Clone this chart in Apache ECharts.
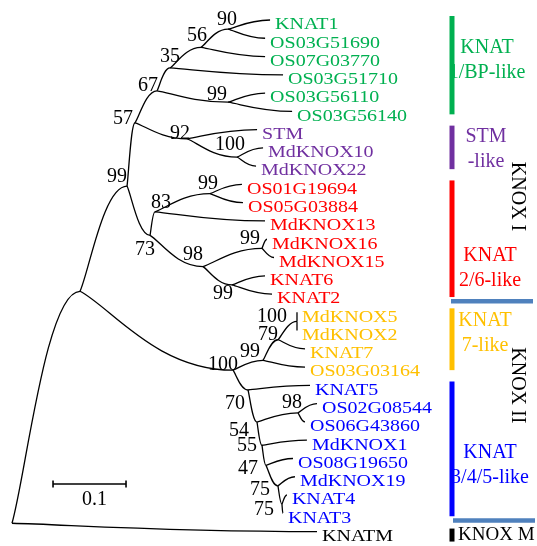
<!DOCTYPE html>
<html>
<head>
<meta charset="utf-8">
<script src="https://cdn.jsdelivr.net/npm/echarts@6/dist/echarts.min.js"></script>
<style>
html, body { margin: 0; padding: 0; background: #ffffff; }
#chart { width: 537px; height: 546px; }
</style>
</head>
<body>
<div id="chart"></div>
<script>
// ---- KNOX gene tree: topology, branch lengths (substitutions/site) and bootstrap support ----
const nodeIds = [
  'root', 'nKNOX', 'nI', 'n57', 'n67', 'n35', 'n56', 'n90', 'KNAT1', 'OS03G51690',
  'OS07G03770', 'OS03G51710', 'n99g', 'OS03G56110', 'OS03G56140', 'n92', 'STM', 'n100p',
  'MdKNOX10', 'MdKNOX22', 'n73', 'n83', 'n99r', 'OS01G19694', 'OS05G03884', 'MdKNOX13',
  'n98', 'n99a', 'MdKNOX16', 'MdKNOX15', 'n99b', 'KNAT6', 'KNAT2', 'nII', 'n99y', 'n79',
  'n100y', 'MdKNOX5', 'MdKNOX2', 'KNAT7', 'OS03G03164', 'n70', 'KNAT5', 'n54', 'n98b',
  'OS02G08544', 'OS06G43860', 'n55', 'MdKNOX1', 'n47', 'OS08G19650', 'n75a', 'MdKNOX19',
  'n75b', 'KNAT4', 'KNAT3', 'KNATM'
];
const parentIds = [
  null, 'root', 'nKNOX', 'nI', 'n57', 'n67', 'n35', 'n56', 'n90', 'n90',
  'n56', 'n35', 'n67', 'n99g', 'n99g', 'n57', 'n92', 'n92',
  'n100p', 'n100p', 'nI', 'n73', 'n83', 'n99r', 'n99r', 'n83',
  'n73', 'n98', 'n99a', 'n99a', 'n98', 'n99b', 'n99b', 'nKNOX', 'nII', 'n99y',
  'n79', 'n100y', 'n100y', 'n79', 'n99y', 'nII', 'n70', 'n70', 'n54',
  'n98b', 'n98b', 'n54', 'n55', 'n55', 'n47', 'n47', 'n75a',
  'n75a', 'n75b', 'n75b', 'root'
];
const branchLengths = [
  0, 0.0932, 0.0644, 0.0110, 0.0301, 0.0178, 0.0425, 0.0370, 0.0575, 0.0507,
  0.0877, 0.1548, 0.0973, 0.0507, 0.0877, 0.0712, 0.0959, 0.0685,
  0.0356, 0.0260, 0.0315, 0.0068, 0.0753, 0.0438, 0.0452, 0.1507,
  0.0726, 0.0808, 0.0068, 0.0164, 0.0397, 0.0452, 0.0548, 0.2096, 0.0411, 0.0205,
  0.0260, 0, 0, 0.0370, 0.0575, 0.0205, 0.0849, 0.0123, 0.0562,
  0.0260, 0.0096, 0.0068, 0.0616, 0.0055, 0.0370, 0.0164, 0.0233,
  0.0055, 0.0068, 0.0014, 0.4178
];
const bootstrap = [
  null, null, 99, 57, 67, 35, 56, 90, null, null,
  null, null, 99, null, null, 92, null, 100,
  null, null, 73, 83, 99, null, null, null,
  98, 99, null, null, 99, null, null, 100, 99, 79,
  100, null, null, null, null, 70, null, 54, 98,
  null, null, 55, null, 47, null, 75, null,
  75, null, null, null
];

// ---- Subfamily brackets ----
const groupNames = ['KNAT\n1/BP-like', 'STM\n-like', 'KNAT\n2/6-like', 'KNAT\n7-like', 'KNAT\n3/4/5-like', 'KNOX M'];
const groupFirst = ['KNAT1', 'STM', 'OS01G19694', 'MdKNOX5', 'KNAT5', 'KNATM'];
const groupLast  = ['OS03G56140', 'MdKNOX22', 'KNAT2', 'OS03G03164', 'KNAT3', 'KNATM'];

// ---- Class labels (vertical) ----
const classNames = ['KNOX I', 'KNOX II'];
const classFirst = ['KNAT1', 'MdKNOX5'];
const classLast  = ['KNAT2', 'KNAT3'];

// ---- Scale bar ----
const scaleBarLength = 0.1;
const scaleBarLabel = '0.1';

// ================= styling / layout =================
const SERIF = '"Liberation Serif", "Times New Roman", serif';
const groupColors = ['#00B050', '#7030A0', '#FF0000', '#FFC000', '#0000FF', '#000000'];
const separatorColor = '#4F81BD';
// bracket padding (px above first / below last leaf) and label placement
const groupLabelLayout = [
  { dx: 35, dy: -5, align: 'center', size: 20, padTop: 4, padBot: 3 },
  { dx: 34, dy: 2, align: 'center', size: 20, padTop: 4, padBot: 3 },
  { dx: 38, dy: 30, align: 'center', size: 20, padTop: 4, padBot: 3 },
  { dx: 33, dy: -6, align: 'center', size: 20, padTop: 4, padBot: 3 },
  { dx: 38, dy: 16, align: 'center', size: 20, padTop: 4, padBot: 3 },
  { dx: 6, dy: 0, align: 'left', size: 19, padTop: 3, padBot: 10 }
];
const classLabelDy = [40, -27];
// support value placement (text centre offset from node, px)
const supportOffset = {
  n90: [-1, -9], n56: [-4, -12], n35: [0, -11], n67: [-9, -5], n57: [-12, -4],
  n99g: [-11, -7], n92: [-7, -5], n100p: [-7, -12], nI: [-10, -9], n99r: [-2, -10],
  n83: [6, -9], n73: [-5, 14], n98: [-10, -12], n99a: [-12, -10], n99b: [-9, 9],
  nII: [-10, -5], n99y: [-13, -9], n79: [-10, -5], n100y: [-25, -5], n70: [-13, 14],
  n98b: [-6, -10], n54: [-18, 9], n55: [-15, 1], n47: [-18, 3], n75a: [-18, 4], n75b: [-18, 6]
};

// ================= tree layout =================
const idx = {};
nodeIds.forEach((id, i) => { idx[id] = i; });
const children = {};
nodeIds.forEach((id, i) => {
  const p = parentIds[i];
  if (p !== null) (children[p] = children[p] || []).push(id);
});
const pos = {};
const leafOrder = [];
let nextRow = 0;
// x = distance from root; row = leaf slot, internal nodes pulled toward smaller clades
function layout(id, x) {
  const kids = children[id] || [];
  if (!kids.length) {
    pos[id] = { x: x, row: nextRow++, n: 1 };
    leafOrder.push(id);
    return pos[id];
  }
  let wsum = 0, rsum = 0, n = 0;
  kids.forEach(k => {
    const c = layout(k, x + branchLengths[idx[k]]);
    const w = 1 / c.n;
    wsum += w; rsum += w * c.row; n += c.n;
  });
  pos[id] = { x: x, row: rsum / wsum, n: n };
  return pos[id];
}
layout('root', 0);

const leafGroup = {};
groupFirst.forEach((f, g) => {
  for (let r = pos[f].row; r <= pos[groupLast[g]].row; r++) leafGroup[leafOrder[r]] = g;
});

const edges = nodeIds.filter((id, i) => parentIds[i] !== null);
const edgeData = edges.map(id => {
  const p = pos[parentIds[idx[id]]], c = pos[id];
  return [p.x, p.row, c.x, c.row];
});
const leafData = leafOrder.map(id => [pos[id].x, pos[id].row]);
const supportNodes = nodeIds.filter((id, i) => bootstrap[i] !== null);
const supportData = supportNodes.map(id => [pos[id].x, pos[id].row]);

const chart = echarts.init(document.getElementById('chart'), null, { renderer: 'canvas' });

const BAR_X = 452;

chart.setOption({
  animation: false,
  backgroundColor: '#ffffff',
  grid: { left: 12, top: 20, width: 365, height: 28 * 18.27 },
  xAxis: { type: 'value', min: 0, max: 0.5, show: false },
  yAxis: { type: 'value', min: 0, max: 28, inverse: true, show: false },
  series: [
    {
      // branches
      type: 'custom',
      clip: false,
      data: edgeData,
      renderItem: function (params, api) {
        const a = api.coord([api.value(0), api.value(1)]);
        const b = api.coord([api.value(2), api.value(3)]);
        const dx = b[0] - a[0], dy = b[1] - a[1];
        return {
          type: 'bezierCurve',
          shape: {
            x1: a[0], y1: a[1], x2: b[0], y2: b[1],
            cpx1: a[0] + 0.2 * dx, cpy1: a[1] + 0.2 * dy,
            cpx2: a[0] + 0.5 * dx, cpy2: b[1]
          },
          style: { stroke: '#000', lineWidth: 1.3, fill: null }
        };
      }
    },
    {
      // leaf names
      type: 'custom',
      clip: false,
      data: leafData,
      renderItem: function (params, api) {
        const id = leafOrder[params.dataIndex];
        const p = api.coord([api.value(0), api.value(1)]);
        return {
          type: 'text',
          x: p[0] + 5, y: p[1] + 5,
          scaleY: 0.82,
          style: {
            text: id, fill: groupColors[leafGroup[id]],
            font: '20px ' + SERIF, textAlign: 'left', textVerticalAlign: 'middle'
          }
        };
      }
    },
    {
      // bootstrap support values
      type: 'custom',
      clip: false,
      data: supportData,
      renderItem: function (params, api) {
        const id = supportNodes[params.dataIndex];
        const p = api.coord([api.value(0), api.value(1)]);
        const off = supportOffset[id] || [-10, -8];
        return {
          type: 'text',
          x: p[0] + off[0], y: p[1] + off[1],
          style: {
            text: String(bootstrap[idx[id]]), fill: '#000',
            font: '20px ' + SERIF, textAlign: 'center', textVerticalAlign: 'middle'
          }
        };
      }
    },
    {
      // subfamily brackets with labels
      type: 'custom',
      clip: false,
      data: groupNames.map((g, i) => [pos[groupFirst[i]].row, pos[groupLast[i]].row]),
      renderItem: function (params, api) {
        const g = params.dataIndex;
        const lay = groupLabelLayout[g];
        const top = api.coord([0, api.value(0)])[1] - lay.padTop;
        const bot = api.coord([0, api.value(1)])[1] + lay.padBot;
        return {
          type: 'group',
          children: [
            { type: 'rect', shape: { x: BAR_X - 2.5, y: top, width: 5, height: bot - top },
              style: { fill: groupColors[g] } },
            { type: 'text', x: BAR_X + lay.dx, y: (top + bot) / 2 + lay.dy,
              style: { text: groupNames[g], fill: groupColors[g], font: lay.size + 'px ' + SERIF,
                       lineHeight: 25, textAlign: lay.align, textVerticalAlign: 'middle' } }
          ]
        };
      }
    },
    {
      // class labels and separators
      type: 'custom',
      clip: false,
      data: classNames.map((c, i) => [pos[classFirst[i]].row, pos[classLast[i]].row]),
      renderItem: function (params, api) {
        const c = params.dataIndex;
        const top = api.coord([0, api.value(0)])[1] - 4;
        const bot = api.coord([0, api.value(1)])[1] + 3;
        return {
          type: 'group',
          children: [
            { type: 'text', x: 517, y: (top + bot) / 2 + classLabelDy[c], rotation: -Math.PI / 2,
              style: { text: classNames[c], fill: '#000', font: '20px ' + SERIF,
                       textAlign: 'center', textVerticalAlign: 'middle' } },
            { type: 'rect', shape: { x: BAR_X - 1 + c * 2, y: bot + 2, width: 82, height: 4.5 },
              style: { fill: separatorColor } }
          ]
        };
      }
    },
    {
      // scale bar
      type: 'custom',
      clip: false,
      data: [[0.0562, 0.0562 + scaleBarLength]],
      renderItem: function (params, api) {
        const x0 = api.coord([api.value(0), 0])[0];
        const x1 = api.coord([api.value(1), 0])[0];
        const y = 484;
        const st = { stroke: '#000', lineWidth: 1.6 };
        return {
          type: 'group',
          children: [
            { type: 'line', shape: { x1: x0, y1: y, x2: x1, y2: y }, style: st },
            { type: 'line', shape: { x1: x0, y1: y - 3.5, x2: x0, y2: y + 3.5 }, style: st },
            { type: 'line', shape: { x1: x1, y1: y - 3.5, x2: x1, y2: y + 3.5 }, style: st },
            { type: 'text', x: (x0 + x1) / 2 + 5, y: y + 16,
              style: { text: scaleBarLabel, fill: '#000', font: '20px ' + SERIF,
                       textAlign: 'center', textVerticalAlign: 'middle' } }
          ]
        };
      }
    }
  ]
});
</script>
</body>
</html>
